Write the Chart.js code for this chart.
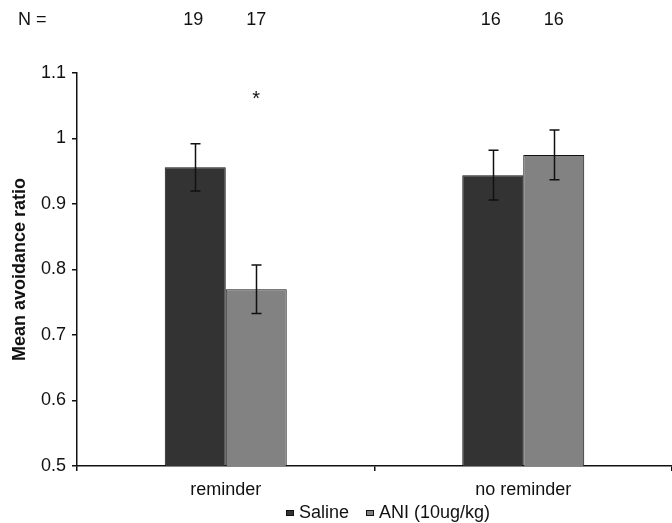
<!DOCTYPE html>
<html>
<head>
<meta charset="utf-8">
<script src="https://cdn.jsdelivr.net/npm/chart.js@4/dist/chart.umd.min.js"></script>
<style>
html,body{margin:0;padding:0;background:#fff;}
#wrap{width:672px;height:523px;position:relative;}
</style>
</head>
<body>
<div id="wrap"><canvas id="c" width="672" height="523"></canvas></div>
<script>
const categories = ["reminder", "no reminder"];
const seriesNames = ["Saline", "ANI (10ug/kg)"];
const seriesColors = ["#333333", "#828282"];
const salineValues = [0.956, 0.944];
const aniValues = [0.770, 0.975];
const salineErrors = [0.036, 0.038];
const aniErrors = [0.037, 0.038];
const nSaline = [19, 16];
const nAni = [17, 16];
const significant = [false, true, false, false]; // saline-rem, ani-rem, saline-norem, ani-norem
const yTicks = [0.5, 0.6, 0.7, 0.8, 0.9, 1, 1.1];

const FONT = "'Liberation Sans', Arial, sans-serif";

const annotationsPlugin = {
  id: 'annotations',
  afterDatasetsDraw(chart) {
    const ctx = chart.ctx;
    const y = chart.scales.y;
    const errs = [salineErrors, aniErrors];
    const Ns = [nSaline, nAni];
    ctx.save();
    ctx.strokeStyle = '#111';
    ctx.lineWidth = 1.5;
    chart.data.datasets.forEach((ds, di) => {
      const meta = chart.getDatasetMeta(di);
      meta.data.forEach((bar, i) => {
        const v = ds.data[i], e = errs[di][i];
        const yt = y.getPixelForValue(v + e), yb = y.getPixelForValue(v - e);
        const x = Math.round(bar.x) + 0.5;
        ctx.beginPath();
        ctx.moveTo(x, yt); ctx.lineTo(x, yb);
        ctx.moveTo(x - 5, yt); ctx.lineTo(x + 5, yt);
        ctx.moveTo(x - 5, yb); ctx.lineTo(x + 5, yb);
        ctx.stroke();
      });
    });
    ctx.fillStyle = '#111';
    ctx.textAlign = 'center';
    ctx.textBaseline = 'middle';
    chart.data.datasets.forEach((ds, di) => {
      const meta = chart.getDatasetMeta(di);
      meta.data.forEach((bar, i) => {
        // significance asterisk
        if (significant[i * 2 + di]) {
          ctx.font = '20px ' + FONT;
          ctx.fillText('*', bar.x, y.getPixelForValue(1.059));
        }
        // N row
        ctx.font = '18px ' + FONT;
        ctx.fillText(String(Ns[di][i]), bar.x - 2 + (di ? 2 : 0), 20);
      });
    });
    ctx.font = '18px ' + FONT;
    ctx.textAlign = 'left';
    ctx.fillText('N =', 18, 20);
    // legend
    const legX = [286, 366];
    seriesNames.forEach((name, i) => {
      ctx.fillStyle = seriesColors[i];
      ctx.fillRect(legX[i], 510, 8, 6);
      ctx.strokeStyle = '#111';
      ctx.lineWidth = 1;
      ctx.strokeRect(legX[i] + 0.5, 510.5, 7, 5);
      ctx.fillStyle = '#111';
      ctx.fillText(name, legX[i] + 13, 513);
    });
    ctx.restore();
  }
};

new Chart(document.getElementById('c'), {
  type: 'bar',
  data: {
    labels: categories,
    datasets: [
      { label: seriesNames[0], data: salineValues, backgroundColor: seriesColors[0], borderColor: '#111', borderWidth: 1 },
      { label: seriesNames[1], data: aniValues, backgroundColor: seriesColors[1], borderColor: '#111', borderWidth: 1 }
    ]
  },
  options: {
    responsive: false,
    animation: false,
    devicePixelRatio: 1,
    categoryPercentage: 0.41,
    barPercentage: 1.0,
    layout: { padding: { top: 73, right: 0, left: 0, bottom: 0 } },
    plugins: {
      tooltip: { enabled: false },
      legend: { display: false }
    },
    scales: {
      x: {
        offset: true,
        afterFit(scale) { scale.height = 57; },
        grid: { offset: true, drawOnChartArea: false, drawTicks: true, tickLength: 5, color: '#111', lineWidth: 1.5 },
        border: { color: '#111', width: 1.5 },
        ticks: { font: { family: FONT, size: 18 }, color: '#111', padding: 8 }
      },
      y: {
        min: 0.5, max: 1.1,
        afterFit(scale) { scale.width = 77; },
        afterBuildTicks(scale) { scale.ticks = yTicks.map(v => ({ value: v })); },
        grid: { drawOnChartArea: false, drawTicks: true, tickLength: 5, color: '#111', lineWidth: 1.5 },
        border: { color: '#111', width: 1.5 },
        ticks: {
          font: { family: FONT, size: 18 }, color: '#111', padding: 6,
          callback: v => String(Number(v.toFixed(1)))
        },
        title: { display: true, text: 'Mean avoidance ratio', font: { family: FONT, size: 18, weight: 'bold' }, color: '#111', padding: { top: 9, bottom: 0 } }
      }
    }
  },
  plugins: [annotationsPlugin]
});
</script>
</body>
</html>
